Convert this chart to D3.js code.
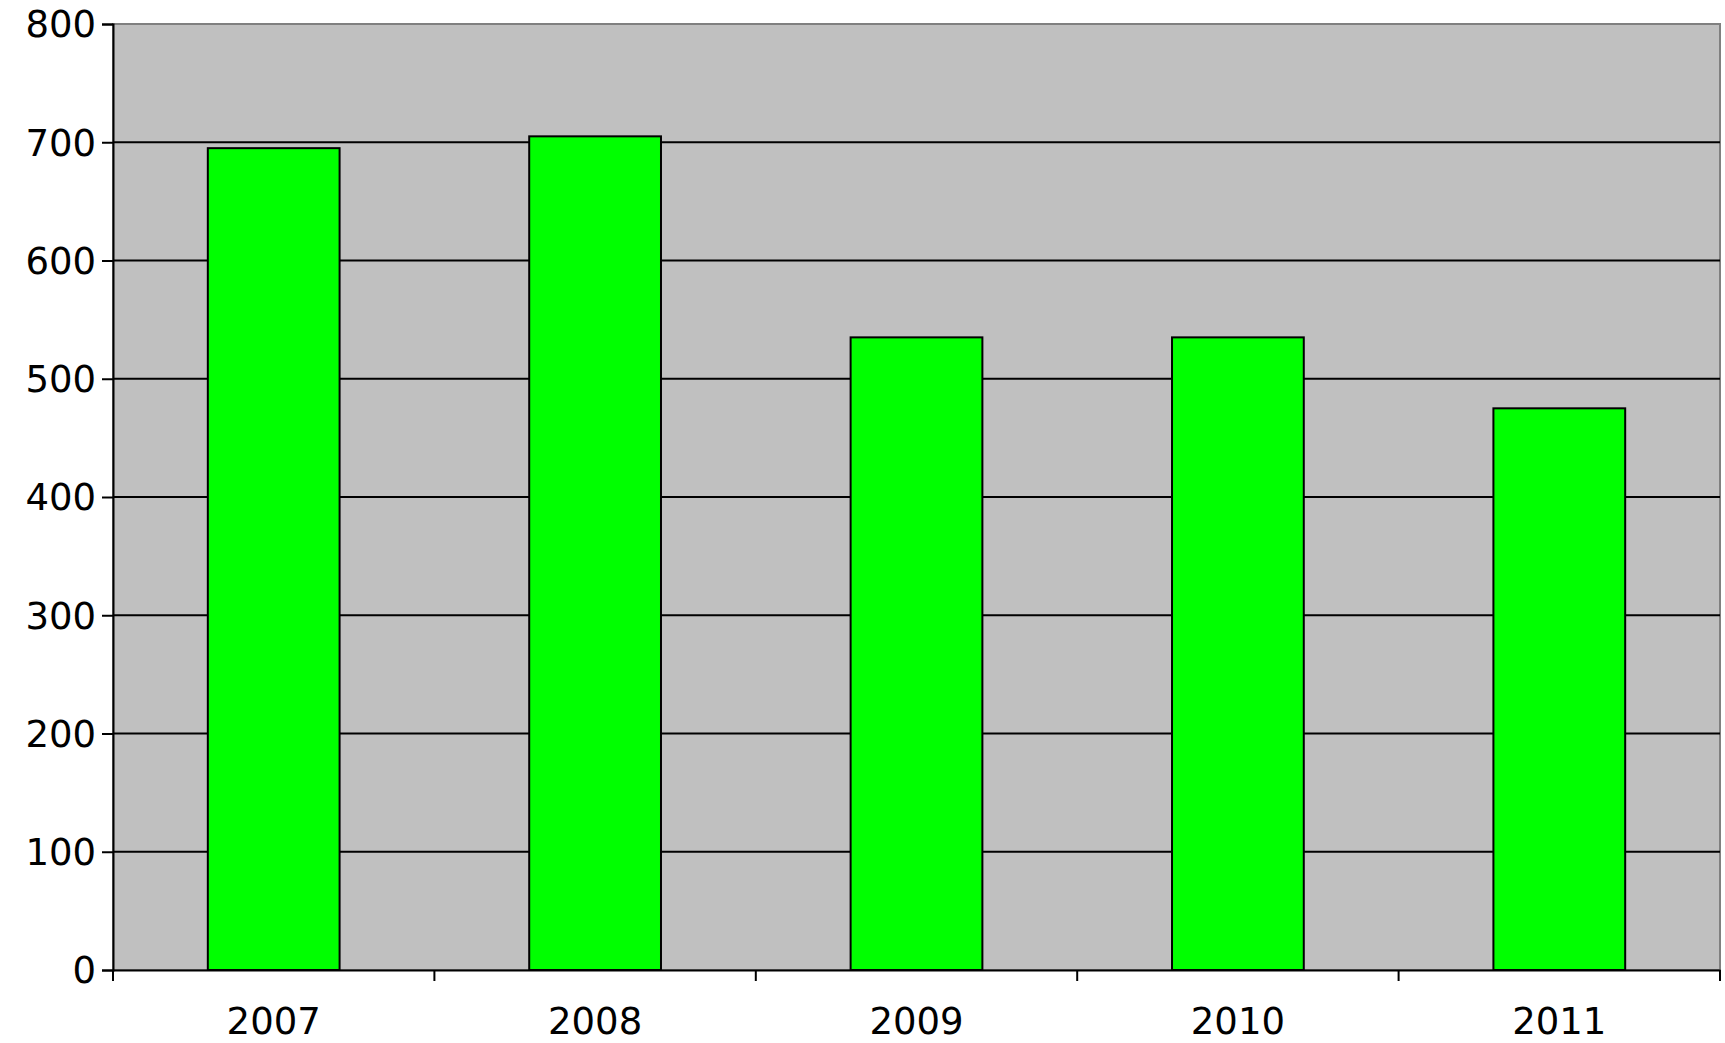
<!DOCTYPE html><html><head><script src="https://cdn.jsdelivr.net/npm/d3@7"></script>
<style>body{margin:0;background:#fff}</style></head><body><svg id="c" width="1725" height="1043"></svg>
<script>
const categories=["2007","2008","2009","2010","2011"];
const values=[695,705,535,535,475];
const yTicks=[0,100,200,300,400,500,600,700,800];
const svg=d3.select("#c");
const L=113,R=1720,T=24,B=970;
const x=d3.scaleBand().domain(categories).range([L,R]).paddingInner(0.59).paddingOuter(0.295);
const xb=d3.scaleBand().domain(categories).range([L,R]);
const y=d3.scaleLinear().domain([0,800]).range([B,T]);
svg.append("rect").attr("x",L).attr("y",T).attr("width",R-L).attr("height",B-T).attr("fill","#c0c0c0").attr("stroke","#808080").attr("stroke-width",2);
svg.selectAll(".g").data(yTicks.slice(1,-1)).enter().append("line").attr("x1",L).attr("x2",R).attr("y1",d=>y(d)).attr("y2",d=>y(d)).attr("stroke","#000").attr("stroke-width",2);
svg.selectAll(".b").data(values).enter().append("rect").attr("x",(d,i)=>x(categories[i])).attr("width",x.bandwidth()).attr("y",d=>y(d)).attr("height",d=>B-y(d)).attr("fill","#00ff00").attr("stroke","#000").attr("stroke-width",2);
const font="DejaVu Sans, Verdana, sans-serif";
const ya=svg.append("g").attr("transform",`translate(${L},0)`).call(d3.axisLeft(y).tickValues(yTicks).tickSize(11).tickPadding(6));
const xa=svg.append("g").attr("transform",`translate(0,${B})`).call(d3.axisBottom(xb).tickSize(0).tickPadding(38));
xa.selectAll(".tick").append("line").attr("x1",-xb.bandwidth()/2).attr("x2",-xb.bandwidth()/2).attr("y2",11).attr("stroke","#000").attr("stroke-width",2);
xa.append("line").attr("x1",R).attr("x2",R).attr("y2",11).attr("stroke","#000").attr("stroke-width",2);
[ya,xa].forEach(a=>{a.selectAll("text").attr("font-family",font).attr("font-size",37).attr("fill","#000");a.selectAll("path,line").attr("stroke","#000").attr("stroke-width",2);});
ya.selectAll("text").attr("dy","0.35em");
</script></body></html>
